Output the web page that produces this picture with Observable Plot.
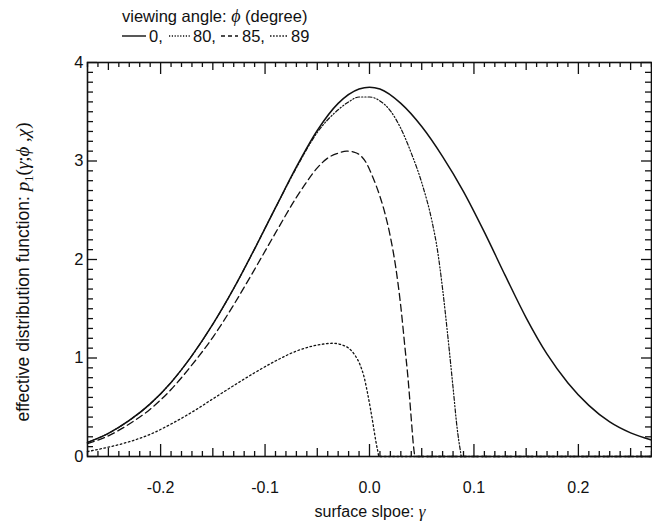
<!DOCTYPE html>
<html>
<head>
<meta charset="utf-8">
<script src="https://cdn.jsdelivr.net/npm/d3@7"></script>
<script src="https://cdn.jsdelivr.net/npm/@observablehq/plot@0.6"></script>
<style>
  body { margin: 0; background: #fff; }
  #wrap { position: relative; width: 652px; height: 528px; font-family: "Liberation Sans", Arial, sans-serif; }
  #wrap svg.legend { position: absolute; left: 0; top: 0; }
</style>
</head>
<body>
<div id="wrap"></div>
<script>
// ---- data ----
const angles = ["0", "80", "85", "89"];

const gamma0 = [-0.27,-0.25,-0.23,-0.21,-0.19,-0.17,-0.15,-0.13,-0.11,-0.09,-0.07,-0.05,-0.03,-0.01,0,0.01,0.03,0.05,0.07,0.09,0.11,0.13,0.15,0.17,0.19,0.21,0.23,0.25,0.27];
const p0     = [0.143,0.235,0.366,0.534,0.752,1.024,1.343,1.706,2.108,2.526,2.94,3.31,3.585,3.731,3.75,3.731,3.585,3.35,3.045,2.69,2.278,1.836,1.408,1.039,0.747,0.519,0.351,0.24,0.168];

const gamma80 = [-0.27,-0.25,-0.23,-0.21,-0.19,-0.17,-0.15,-0.13,-0.11,-0.09,-0.07,-0.05,-0.03,-0.02,-0.01,0,0.01,0.02,0.03,0.04,0.05,0.06,0.065,0.07,0.075,0.08,0.084,0.087,0.088,0.09,0.27];
const p80     = [0.143,0.235,0.366,0.534,0.752,1.024,1.343,1.706,2.108,2.526,2.93,3.29,3.52,3.60,3.65,3.65,3.61,3.51,3.33,3.08,2.78,2.38,2.10,1.70,1.22,0.70,0.28,0.06,0,0,0];

const gamma85 = [-0.27,-0.25,-0.23,-0.21,-0.19,-0.17,-0.15,-0.13,-0.11,-0.09,-0.07,-0.06,-0.05,-0.04,-0.03,-0.022,-0.015,-0.008,-0.003,0.003,0.01,0.015,0.02,0.025,0.03,0.034,0.037,0.040,0.042,0.043,0.0435,0.045,0.27];
const p85     = [0.13,0.21,0.33,0.48,0.68,0.93,1.21,1.54,1.90,2.27,2.63,2.79,2.93,3.03,3.08,3.10,3.09,3.05,2.98,2.84,2.64,2.46,2.23,1.93,1.52,1.10,0.78,0.38,0.12,0.03,0,0,0];

const gamma89 = [-0.27,-0.25,-0.23,-0.21,-0.19,-0.17,-0.15,-0.13,-0.11,-0.09,-0.07,-0.055,-0.045,-0.035,-0.027,-0.02,-0.014,-0.009,-0.005,-0.002,0.001,0.004,0.006,0.008,0.009,0.011,0.27];
const p89     = [0.05,0.095,0.15,0.225,0.33,0.45,0.585,0.72,0.85,0.97,1.07,1.12,1.14,1.15,1.135,1.10,1.03,0.93,0.80,0.65,0.48,0.29,0.16,0.05,0,0,0];

const xTickLabels = [-0.2, -0.1, 0.0, 0.1, 0.2];
const yTickLabels = [0, 1, 2, 3, 4];

// ---- tables ----
const toRows = (g, p) => g.map((x, i) => ({gamma: x, p: p[i]}));
const s0 = toRows(gamma0, p0), s80 = toRows(gamma80, p80), s85 = toRows(gamma85, p85), s89 = toRows(gamma89, p89);

const W = 652, H = 528, mL = 87, mR = 1, mT = 62, mB = 72;
const FH = H - mT - mB, FW = W - mL - mR;

const xMinor = d3.range(-27, 28).map(i => i / 100);
const xLen = v => (Math.abs(Math.round(v * 100)) % 10 === 0 ? 12 : Math.abs(Math.round(v * 100)) % 5 === 0 ? 8 : 5);
const xMaj = xMinor.filter(v => xLen(v) === 12), xMed = xMinor.filter(v => xLen(v) === 8), xMin = xMinor.filter(v => xLen(v) === 5);
const yAll = d3.range(0, 41).map(i => i / 10);
const yMaj = yAll.filter(v => Math.abs(v - Math.round(v)) < 1e-9), yMin = yAll.filter(v => Math.abs(v - Math.round(v)) >= 1e-9);

const tickStyle = {stroke: "#111", strokeWidth: 1.3};
const xTicks = (vals, len) => [
  Plot.tickX(vals, {x: d => d, insetTop: FH - len, ...tickStyle}),
  Plot.tickX(vals, {x: d => d, insetBottom: FH - len, ...tickStyle})
];
const yTicks = (vals, len) => [
  Plot.tickY(vals, {y: d => d, insetRight: FW - len, ...tickStyle}),
  Plot.tickY(vals, {y: d => d, insetLeft: FW - len, ...tickStyle})
];

const lineOpts = {x: "gamma", y: "p", stroke: "#111", strokeWidth: 1.5, curve: "monotone-x"};

const chart = Plot.plot({
  width: W, height: H,
  marginLeft: mL, marginRight: mR, marginTop: mT, marginBottom: mB,
  style: {fontFamily: "Liberation Sans, Arial, sans-serif", fontSize: "16px", background: "#fff", color: "#111"},
  x: {domain: [-0.27, 0.27]},
  y: {domain: [0, 4]},
  marks: [
    Plot.axisX(xTickLabels, {tickSize: 0, tickPadding: 25, tickFormat: d => d.toFixed(1), label: null, fontSize: 16}),
    Plot.axisY(yTickLabels, {tickSize: 0, tickPadding: 4, tickFormat: d => String(d), label: null, fontSize: 16.5}),
    ...xTicks(xMin, 5), ...xTicks(xMed, 8), ...xTicks(xMaj, 12),
    ...yTicks(yMin, 6), ...yTicks(yMaj, 10),
    Plot.line(s0, {...lineOpts}),
    Plot.line(s80, {...lineOpts, strokeWidth: 1.2, strokeDasharray: "4,2,1.2,2,1.2,2"}),
    Plot.line(s85, {...lineOpts, strokeWidth: 1.3, strokeDasharray: "7,4"}),
    Plot.line(s89, {...lineOpts, strokeWidth: 1.3, strokeDasharray: "1.6,2.6"}),
    Plot.frame({stroke: "#111", strokeWidth: 1.6})
  ]
});

const svg = d3.select(chart);
// x-axis label
const xl = svg.append("text")
  .attr("x", 370).attr("y", 517)
  .attr("text-anchor", "middle")
  .attr("font-size", 16).attr("fill", "#111");
xl.append("tspan").text("surface slpoe: ");
xl.append("tspan").attr("font-family", "Liberation Serif, serif").attr("font-style", "italic").attr("font-size", 17).text("γ");

// y-axis label
const yl = svg.append("text")
  .attr("transform", "translate(29,272) rotate(-90)")
  .attr("text-anchor", "middle")
  .attr("font-size", 17.5).attr("fill", "#111");
yl.append("tspan").text("effective distribution function: ");
const serifI = t => yl.append("tspan").attr("font-family", "Liberation Serif, serif").attr("font-style", "italic").attr("font-size", 19).text(t);
serifI("p");
yl.append("tspan").attr("font-family", "Liberation Serif, serif").attr("font-size", 12.5).attr("dy", 4).text("1");
yl.append("tspan").attr("font-family", "Liberation Serif, serif").attr("font-size", 19).attr("dy", -4).text("(");
serifI("γ");
yl.append("tspan").attr("font-family", "Liberation Serif, serif").attr("font-size", 19).text(";");
serifI("ϕ");
yl.append("tspan").attr("font-family", "Liberation Serif, serif").attr("font-size", 19).text(" ,");
serifI("χ");
yl.append("tspan").attr("font-family", "Liberation Serif, serif").attr("font-size", 19).text(")");

const wrap = document.getElementById("wrap");
wrap.appendChild(chart);

// ---- legend (above the plot frame) ----
const lg = d3.select(wrap).append("svg").attr("class", "legend")
  .attr("width", W).attr("height", 50)
  .attr("font-family", "Liberation Sans, Arial, sans-serif").attr("font-size", 16.5);
const title = lg.append("text").attr("x", 122).attr("y", 22).attr("fill", "#111");
title.append("tspan").text("viewing angle: ");
title.append("tspan").attr("font-family", "Liberation Serif, serif").attr("font-style", "italic").attr("font-size", 18).text("ϕ");
title.append("tspan").text(" (degree)");

const legendItems = [
  {x1: 122, x2: 146, tx: 149, dash: null, comma: true},
  {x1: 169, x2: 190, tx: 193, dash: "1.2,1.6", comma: true},
  {x1: 221, x2: 238, tx: 242, dash: "4,3", comma: true},
  {x1: 270, x2: 288, tx: 291, dash: "1.5,1.6", comma: false}
];
legendItems.forEach((d, i) => {
  lg.append("line").attr("x1", d.x1).attr("x2", d.x2).attr("y1", 36).attr("y2", 36)
    .attr("stroke", "#111").attr("stroke-width", 1.4).attr("stroke-dasharray", d.dash);
  lg.append("text").attr("x", d.tx).attr("y", 42).attr("fill", "#111").text(angles[i] + (d.comma ? "," : ""));
});
</script>
</body>
</html>
